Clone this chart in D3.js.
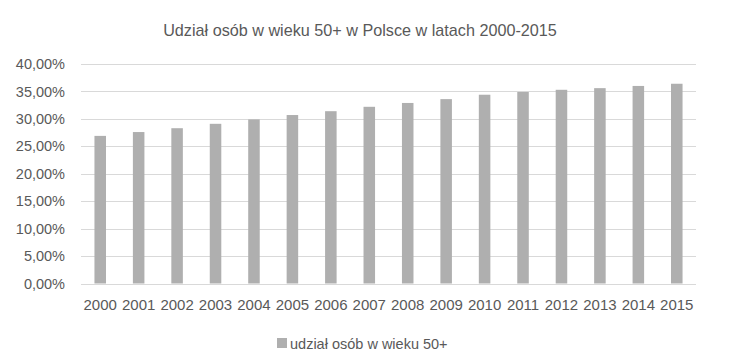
<!DOCTYPE html>
<html>
<head>
<meta charset="utf-8">
<script src="https://cdn.jsdelivr.net/npm/d3@7"></script>
<style>
  body { margin: 0; background: #fff; }
  text { font-family: "Liberation Sans Narrow", "Arial Narrow", "Liberation Sans", sans-serif; fill: #595959; }
</style>
</head>
<body>
<div id="chart"></div>
<script>
var years = ["2000", "2001", "2002", "2003", "2004", "2005", "2006", "2007",
             "2008", "2009", "2010", "2011", "2012", "2013", "2014", "2015"];
var shares = [26.9, 27.6, 28.3, 29.1, 29.9, 30.7, 31.4, 32.2,
              32.9, 33.6, 34.4, 34.9, 35.3, 35.6, 36.0, 36.4];
var yTicks = [0, 5, 10, 15, 20, 25, 30, 35, 40];
var title = "Udział osób w wieku 50+ w Polsce w latach 2000-2015";
var seriesName = "udział osób w wieku 50+";

var W = 737, H = 364;
var margin = { top: 64, right: 41, bottom: 80, left: 81 };
var width = W - margin.left - margin.right,
    height = 283.5 - margin.top;

var svg = d3.select("#chart").append("svg")
    .attr("width", W)
    .attr("height", H);

svg.append("text")
    .attr("x", 360)
    .attr("y", 36)
    .attr("text-anchor", "middle")
    .style("font-size", "16.2px")
    .text(title);

var g = svg.append("g")
    .attr("transform", "translate(" + margin.left + "," + margin.top + ")");

var x = d3.scaleBand()
    .domain(years)
    .range([0, width])
    .paddingInner(0.7)
    .paddingOuter(0.35);

var y = d3.scaleLinear()
    .domain([0, 40])
    .range([height, 0]);

// gridlines
g.selectAll(".grid")
    .data(yTicks)
    .enter()
    .append("line")
    .attr("x1", 0)
    .attr("x2", width)
    .attr("y1", function (d) { return Math.round(y(d)) + 0.5; })
    .attr("y2", function (d) { return Math.round(y(d)) + 0.5; })
    .attr("stroke", "#d9d9d9")
    .attr("stroke-width", 1);

// y axis labels
var yAxis = d3.axisLeft(y)
    .tickValues(yTicks)
    .tickSize(0)
    .tickPadding(16)
    .tickFormat(function (d) { return d3.format(".2f")(d).replace(".", ",") + "%"; });

var gy = g.append("g").call(yAxis);
gy.select(".domain").remove();
gy.selectAll("text")
    .style("font-size", "14.5px")
    .style("font-family", null)
    .attr("fill", null);

// bars
g.selectAll(".bar")
    .data(years)
    .enter()
    .append("rect")
    .attr("class", "bar")
    .attr("x", function (d) { return x(d); })
    .attr("width", x.bandwidth())
    .attr("y", function (d, i) { return y(shares[i]); })
    .attr("height", function (d, i) { return height - y(shares[i]); })
    .attr("fill", "#afafaf");

// x axis labels
var xAxis = d3.axisBottom(x).tickSize(0).tickPadding(16);
var gx = g.append("g")
    .attr("transform", "translate(0," + height + ")")
    .call(xAxis);
gx.select(".domain").remove();
gx.selectAll("text")
    .style("font-size", "15px")
    .style("font-family", null)
    .attr("fill", null);

// legend
var legend = svg.append("g").attr("transform", "translate(277,338)");
legend.append("rect")
    .attr("width", 10)
    .attr("height", 10)
    .attr("fill", "#afafaf");
legend.append("text")
    .attr("x", 13)
    .attr("y", 11)
    .style("font-size", "14.5px")
    .text(seriesName);
</script>
</body>
</html>
